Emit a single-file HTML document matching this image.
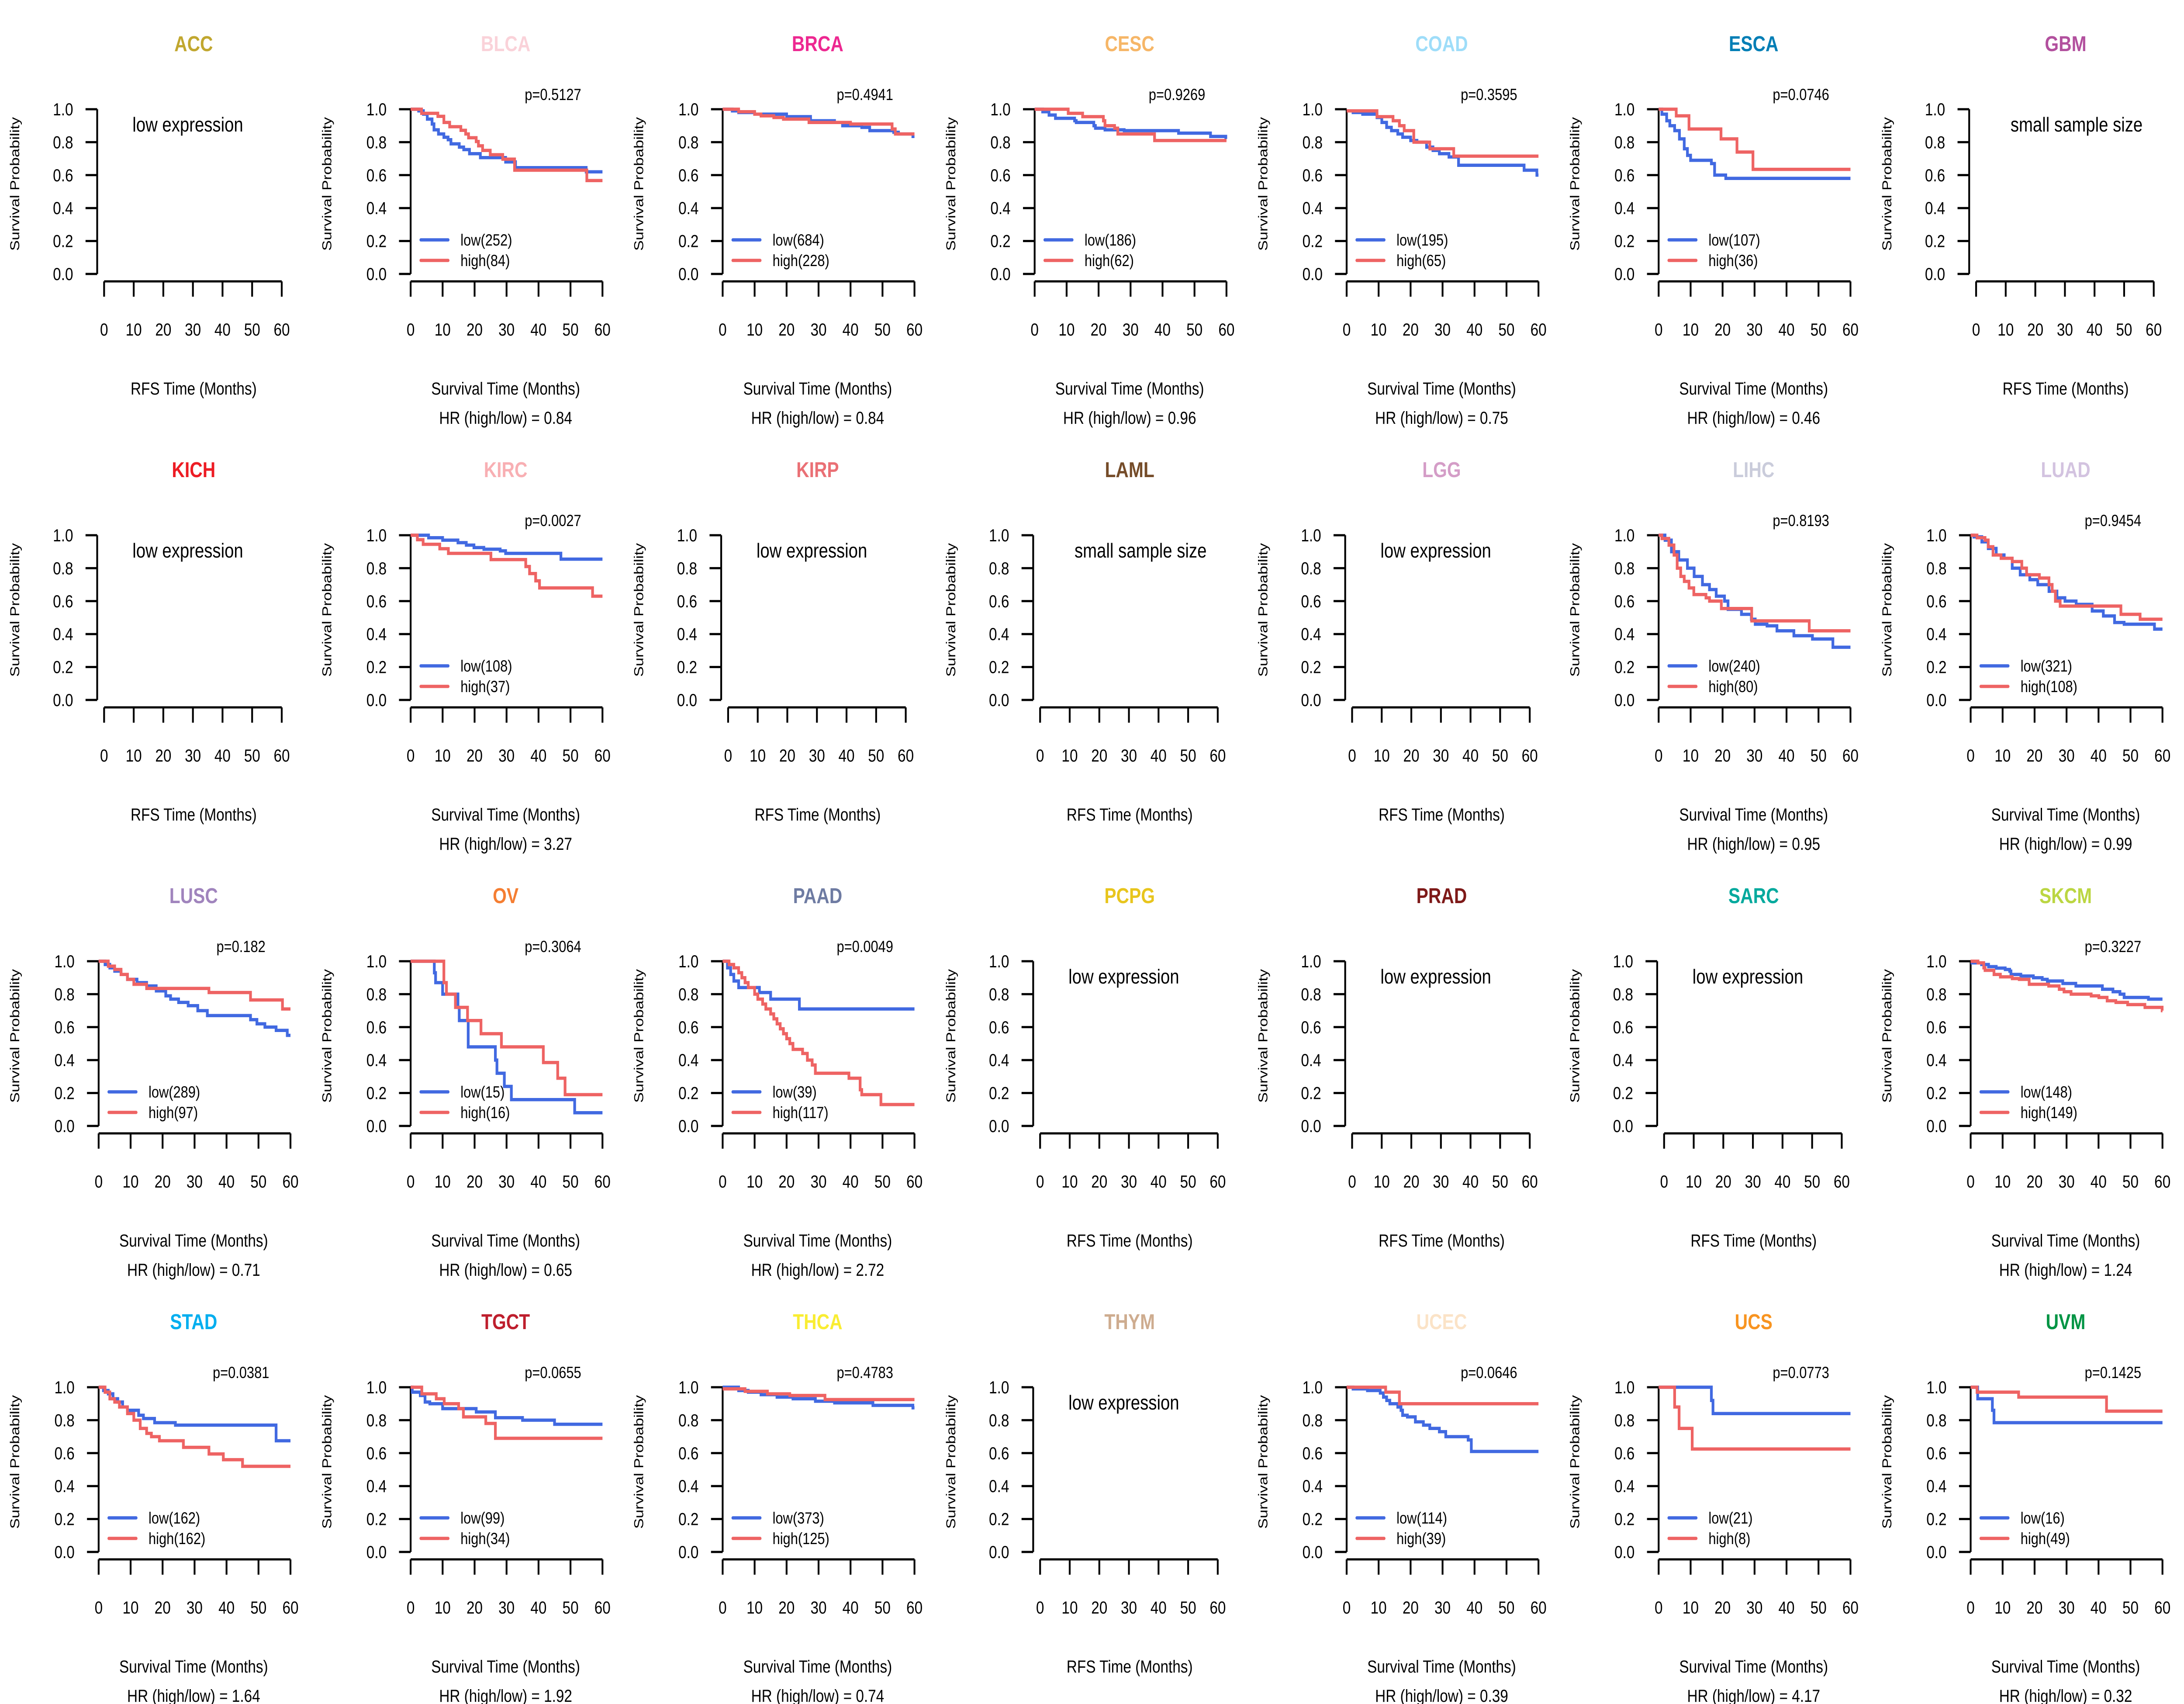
<!DOCTYPE html>
<html><head><meta charset="utf-8">
<style>
html,body{margin:0;padding:0;background:#fff;overflow:hidden;width:100%;height:100%;}
svg{display:block;width:100vw;height:100vh;}
text{font-family:"Liberation Sans",Arial,sans-serif;}
</style></head>
<body>
<svg id="fig" viewBox="0 0 6000 3900" preserveAspectRatio="none" xmlns="http://www.w3.org/2000/svg"></svg>
<script>
// ---- data ----
const cancers = ["ACC","BLCA","BRCA","CESC","COAD","ESCA","GBM",
 "KICH","KIRC","KIRP","LAML","LGG","LIHC","LUAD",
 "LUSC","OV","PAAD","PCPG","PRAD","SARC","SKCM",
 "STAD","TGCT","THCA","THYM","UCEC","UCS","UVM"];
const titleColors = ["#C1A72F","#FAD2D9","#ED2891","#F6B667","#9EDDF9","#007EB5","#B2509E",
 "#ED1C24","#F8AFB3","#EA7075","#754C29","#D49DC7","#CACCDB","#D3C3E0",
 "#A084BD","#F57E32","#6E7BA2","#E8C51D","#7E1918","#00A99D","#BBD642",
 "#00AEEF","#BE1E2D","#F9ED32","#CEAC8F","#FBE3C7","#F89420","#009444"];
const status = ["low","km","km","km","km","km","small",
 "low","km","low","small","low","km","km",
 "km","km","km","low","low","low","km",
 "km","km","km","low","km","km","km"];
const pValues = {BLCA:"0.5127",BRCA:"0.4941",CESC:"0.9269",COAD:"0.3595",ESCA:"0.0746",KIRC:"0.0027",LIHC:"0.8193",LUAD:"0.9454",LUSC:"0.182",OV:"0.3064",PAAD:"0.0049",SKCM:"0.3227",STAD:"0.0381",TGCT:"0.0655",THCA:"0.4783",UCEC:"0.0646",UCS:"0.0773",UVM:"0.1425"};
const hrValues = {BLCA:"0.84",BRCA:"0.84",CESC:"0.96",COAD:"0.75",ESCA:"0.46",KIRC:"3.27",LIHC:"0.95",LUAD:"0.99",LUSC:"0.71",OV:"0.65",PAAD:"2.72",SKCM:"1.24",STAD:"1.64",TGCT:"1.92",THCA:"0.74",UCEC:"0.39",UCS:"4.17",UVM:"0.32"};
const nLow = {BLCA:252,BRCA:684,CESC:186,COAD:195,ESCA:107,KIRC:108,LIHC:240,LUAD:321,LUSC:289,OV:15,PAAD:39,SKCM:148,STAD:162,TGCT:99,THCA:373,UCEC:114,UCS:21,UVM:16};
const nHigh = {BLCA:84,BRCA:228,CESC:62,COAD:65,ESCA:36,KIRC:37,LIHC:80,LUAD:108,LUSC:97,OV:16,PAAD:117,SKCM:149,STAD:162,TGCT:34,THCA:125,UCEC:39,UCS:8,UVM:49};
const xTicks = [0,10,20,30,40,50,60];
const yTicks = ["0.0","0.2","0.4","0.6","0.8","1.0"];

const BLCA_low = [[0,1],[2.5,0.99],[4,0.97],[5.2,0.94],[6.7,0.91],[7.3,0.875],[8.7,0.85],[10.4,0.83],[11.7,0.815],[12.6,0.79],[15.2,0.77],[16.6,0.755],[18.4,0.73],[21.8,0.706],[29.7,0.68],[32.8,0.645],[54.9,0.62]];
const BLCA_high = [[0,1],[3.4,0.975],[8.5,0.957],[10.4,0.92],[12.2,0.894],[15.7,0.872],[17.2,0.85],[18.1,0.827],[20.5,0.804],[21.2,0.778],[22.5,0.75],[24.9,0.724],[28.8,0.697],[32.5,0.63],[55.1,0.567]];
const BRCA_low = [[0,1],[3,0.99],[5,0.98],[10,0.97],[20,0.955],[27.5,0.93],[35,0.92],[37.5,0.9],[43.5,0.89],[46,0.87],[53.5,0.86],[55,0.85],[59.5,0.835]];
const BRCA_high = [[0,1],[5,0.985],[10,0.97],[12,0.96],[16,0.95],[19,0.94],[27,0.92],[40,0.91],[53,0.88],[54,0.85]];
const CESC_low = [[0,1],[2.5,0.985],[4.5,0.965],[6.5,0.945],[12.5,0.93],[13,0.92],[18.5,0.9],[19,0.885],[22,0.875],[28,0.87],[45,0.855],[55,0.835],[59.8,0.82]];
const CESC_high = [[0,1],[10.5,0.975],[15,0.955],[21.5,0.93],[22,0.9],[25,0.885],[26,0.85],[37.5,0.81]];
const COAD_low = [[0,0.99],[2,0.98],[5,0.97],[9.5,0.95],[11,0.92],[12.5,0.89],[14,0.87],[16,0.85],[17.5,0.83],[20,0.81],[22,0.8],[25,0.77],[27,0.75],[29,0.73],[32,0.71],[35,0.66],[55.5,0.63],[59.5,0.6]];
const COAD_high = [[0,0.99],[9.5,0.955],[14.5,0.93],[16.5,0.9],[18,0.87],[21,0.8],[26,0.76],[33.5,0.715]];
const ESCA_low = [[0,1],[1,0.97],[2.5,0.93],[3.5,0.9],[5,0.87],[6.5,0.82],[8,0.76],[9,0.72],[10,0.69],[16.5,0.67],[17.5,0.6],[21,0.58]];
const ESCA_high = [[0,1],[5.5,0.96],[9.5,0.88],[19.5,0.82],[24.5,0.74],[29.5,0.635]];
const KIRC_low = [[0,1],[5.6,0.985],[10,0.97],[14.8,0.955],[17.4,0.94],[19.8,0.925],[22.9,0.915],[28,0.905],[29.7,0.89],[47,0.855]];
const KIRC_high = [[0,1],[2.1,0.973],[3.9,0.945],[9.1,0.918],[11.8,0.89],[25.1,0.852],[36,0.81],[37.2,0.767],[39.1,0.723],[40.3,0.68],[56.9,0.63]];
const LIHC_low = [[0,1],[2,0.97],[4,0.9],[6.3,0.85],[9,0.8],[11.1,0.75],[13.7,0.7],[15.9,0.67],[18,0.63],[20.6,0.6],[21.7,0.55],[25.9,0.52],[29,0.49],[30.2,0.46],[33.9,0.45],[37,0.42],[42.3,0.39],[48.1,0.37],[54.5,0.32]];
const LIHC_high = [[0,1],[1,0.98],[3.2,0.94],[4.8,0.88],[5.8,0.8],[6.9,0.75],[8,0.72],[9.5,0.68],[11,0.64],[14.8,0.62],[15.9,0.6],[19.6,0.555],[29.1,0.48],[47.1,0.42]];
const LUAD_low = [[0,1],[1,0.99],[3.5,0.96],[5.5,0.92],[8,0.88],[10.5,0.86],[13,0.8],[15.5,0.76],[18.5,0.73],[21,0.7],[24.5,0.66],[27,0.62],[29.5,0.6],[33,0.58],[38,0.54],[41.5,0.51],[45,0.47],[48,0.46],[57.5,0.43]];
const LUAD_high = [[0,1],[2,0.985],[4.5,0.97],[5.5,0.93],[7,0.88],[9.5,0.86],[13,0.84],[16,0.8],[17.5,0.76],[21.5,0.74],[24.5,0.7],[25.5,0.66],[26.5,0.6],[28,0.57],[47,0.52],[53,0.49]];
const LUSC_low = [[0,1],[2,0.98],[3.5,0.96],[5,0.94],[7,0.92],[9,0.89],[12,0.87],[15,0.85],[18,0.82],[21,0.79],[22.5,0.77],[25,0.75],[28,0.73],[31,0.7],[34,0.67],[47.5,0.645],[49.5,0.62],[52,0.6],[55.5,0.58],[59,0.55]];
const LUSC_high = [[0,1],[3,0.97],[5,0.95],[7,0.92],[9,0.89],[11,0.86],[15,0.835],[34.5,0.81],[47.5,0.765],[57.5,0.71]];
const OV_low = [[0,1],[7.4,0.93],[7.8,0.87],[10,0.8],[14.8,0.72],[15.2,0.64],[18,0.48],[26.5,0.4],[27,0.32],[29.3,0.24],[31.5,0.16],[51.3,0.08]];
const OV_high = [[0,1],[10.4,0.87],[11.2,0.8],[14,0.72],[17.8,0.64],[22,0.56],[28.4,0.48],[41.5,0.385],[46,0.29],[48.3,0.19]];
const PAAD_low = [[0,1],[1.5,0.96],[2.5,0.92],[3.5,0.88],[5,0.84],[11.5,0.81],[15,0.77],[24,0.71]];
const PAAD_high = [[0,1],[2,0.98],[3.5,0.96],[5,0.93],[6,0.9],[7,0.87],[8,0.84],[10,0.8],[11,0.77],[12.5,0.74],[13.5,0.71],[15,0.68],[16,0.65],[17,0.62],[18,0.59],[19,0.56],[20,0.53],[21,0.5],[22,0.465],[25,0.44],[26.5,0.4],[28,0.37],[29,0.32],[39.5,0.29],[43,0.22],[43.5,0.19],[49.5,0.13]];
const SKCM_low = [[0,0.99],[3.4,0.98],[5.6,0.967],[8,0.958],[10.8,0.95],[12.2,0.94],[12.6,0.92],[15.7,0.91],[19.6,0.9],[22.4,0.89],[24,0.88],[28.8,0.865],[32.9,0.85],[41.2,0.83],[44.5,0.815],[46.7,0.8],[48,0.78],[55.6,0.77]];
const SKCM_high = [[0,1],[2.3,0.99],[4.1,0.96],[4.5,0.945],[7.3,0.92],[9.3,0.905],[13,0.895],[15.2,0.89],[18.3,0.86],[24.4,0.85],[27.7,0.83],[29.2,0.815],[31.4,0.8],[37.7,0.79],[40.1,0.78],[42.7,0.76],[45.4,0.75],[49.1,0.737],[54.5,0.72],[59.9,0.7]];
const STAD_low = [[0,1],[1.5,0.98],[3,0.96],[4.5,0.93],[6,0.91],[7.5,0.88],[9,0.86],[12.5,0.83],[14,0.81],[17.5,0.785],[24,0.77],[55.5,0.675]];
const STAD_high = [[0,1],[2,0.97],[3.5,0.93],[5,0.91],[6.5,0.88],[9,0.84],[11,0.8],[13,0.75],[15,0.72],[16.5,0.7],[19,0.675],[26.5,0.635],[34.5,0.595],[39,0.56],[45,0.52]];
const TGCT_low = [[0,1],[0.5,0.97],[3,0.95],[4.5,0.91],[6,0.9],[10,0.87],[20.5,0.85],[26.5,0.815],[35,0.8],[45,0.775]];
const TGCT_high = [[0,1],[3.5,0.96],[8,0.93],[10.5,0.9],[15,0.87],[16.5,0.82],[23.5,0.78],[26.5,0.69]];
const THCA_low = [[0,1],[5,0.98],[8,0.97],[12,0.955],[17,0.94],[22,0.93],[29,0.915],[35,0.905],[47,0.89],[59.5,0.875]];
const THCA_high = [[0,0.99],[7,0.975],[14,0.96],[21,0.95],[32,0.925]];
const UCEC_low = [[0,1],[2,0.99],[6.5,0.98],[10.5,0.965],[11.5,0.94],[12.5,0.92],[13.5,0.9],[16,0.88],[17,0.86],[17.5,0.83],[19,0.82],[21.5,0.79],[24,0.77],[26,0.75],[29,0.73],[31,0.7],[38,0.68],[39,0.61]];
const UCEC_high = [[0,1],[12.2,0.97],[16.5,0.9]];
const UCS_low = [[0,1],[16.5,0.92],[17,0.84]];
const UCS_high = [[0,1],[5,0.88],[6.4,0.75],[10.5,0.625]];
const UVM_low = [[0,1],[2.2,0.93],[6.8,0.86],[7.3,0.785]];
const UVM_high = [[0,1],[2,0.97],[15,0.94],[42.5,0.855]];

const curves = {BLCA:[BLCA_low,BLCA_high],BRCA:[BRCA_low,BRCA_high],CESC:[CESC_low,CESC_high],COAD:[COAD_low,COAD_high],ESCA:[ESCA_low,ESCA_high],KIRC:[KIRC_low,KIRC_high],LIHC:[LIHC_low,LIHC_high],LUAD:[LUAD_low,LUAD_high],LUSC:[LUSC_low,LUSC_high],OV:[OV_low,OV_high],PAAD:[PAAD_low,PAAD_high],SKCM:[SKCM_low,SKCM_high],STAD:[STAD_low,STAD_high],TGCT:[TGCT_low,TGCT_high],THCA:[THCA_low,THCA_high],UCEC:[UCEC_low,UCEC_high],UCS:[UCS_low,UCS_high],UVM:[UVM_low,UVM_high]};

// ---- drawing ----
const NS = "http://www.w3.org/2000/svg";
const svg = document.getElementById("fig");
function mk(tag, attrs, parent, txt){
  const e = document.createElementNS(NS, tag);
  for (const k in attrs) e.setAttribute(k, attrs[k]);
  if (txt !== undefined) e.textContent = txt;
  parent.appendChild(e);
  return e;
}
const PW = 6000/7, PH = 975;
const BLUE = "#4169E1", RED = "#EE6363";

cancers.forEach((name, i) => {
  const col = i % 7, row = Math.floor(i / 7);
  const g = mk("g", {transform: `translate(${(col*PW).toFixed(2)},${row*PH})`}, svg);
  
  
  const km = status[i] === "km";
  const yTop = 250, yBot = 627;
  const xA = km ? 271 : 286, xB = km ? 798 : 774, yAxisX = km ? 271 : 267;
  const xs = t => xA + (xB - xA) * t / 60;
  const ys = s => yBot - (yBot - yTop) * s;

  const title = mk("text", {x: 532, y: 117, "text-anchor": "middle", "font-size": 49, "font-weight": "bold", fill: titleColors[i]}, g, name);
  
  

  const yl = mk("text", {transform: "translate(53,421) rotate(-90)", "text-anchor": "middle", "font-size": 36, fill: "#000"}, g, "Survival Probability");
  
  

  const ya = mk("g", {}, g);
  
  
  mk("line", {x1: yAxisX, y1: yTop, x2: yAxisX, y2: yBot, stroke: "#000", "stroke-width": 5}, ya);
  yTicks.forEach(lab => {
    const yy = ys(parseFloat(lab));
    mk("line", {x1: yAxisX - 32, y1: yy, x2: yAxisX, y2: yy, stroke: "#000", "stroke-width": 5}, ya);
    const t = mk("text", {x: yAxisX - 66, y: yy + 14, "text-anchor": "end", "font-size": 40, fill: "#000"}, ya, lab);
    
    
  });

  const xa = mk("g", {}, g);
  
  
  mk("line", {x1: xs(0), y1: 644, x2: xs(60), y2: 644, stroke: "#000", "stroke-width": 5}, xa);
  xTicks.forEach(v => {
    mk("line", {x1: xs(v), y1: 644, x2: xs(v), y2: 679, stroke: "#000", "stroke-width": 5}, xa);
    const t = mk("text", {x: xs(v), y: 768, "text-anchor": "middle", "font-size": 40, fill: "#000"}, xa, String(v));
    
    
  });

  const xl = mk("text", {x: 532, y: 903, "text-anchor": "middle", "font-size": 40, fill: "#000"}, g, km ? "Survival Time (Months)" : "RFS Time (Months)");
  
  

  if (!km) {
    const msg = status[i] === "low" ? "low expression" : "small sample size";
    const cx = status[i] === "low" ? 516 : 562;
    const m = mk("text", {x: cx, y: 301, "text-anchor": "middle", "font-size": 46, fill: "#000"}, g, msg);
    
    
    return;
  }

  const [lowC, highC] = curves[name];
  [[lowC, BLUE, "low"], [highC, RED, "high"]].forEach(([pts, color, lab]) => {
    let d = `M${xs(0)},${ys(pts[0][1])}`;
    for (let k = 1; k < pts.length; k++) {
      d += `H${xs(pts[k][0]).toFixed(1)}V${ys(pts[k][1]).toFixed(1)}`;
    }
    d += `H${xs(60)}`;
    const p = mk("path", {d: d, fill: "none", stroke: color, "stroke-width": 7.5}, g);
    
    
  });

  const pt = mk("text", {x: 662, y: 229, "text-anchor": "middle", "font-size": 37, fill: "#000"}, g, "p=" + pValues[name]);
  
  

  const lg = mk("g", {}, g);
  
  
  mk("line", {x1: 299, y1: 549, x2: 374, y2: 549, stroke: BLUE, "stroke-width": 7.5, "stroke-linecap": "round"}, lg);
  const l1 = mk("text", {x: 408, y: 562, "font-size": 37, fill: "#000"}, lg, `low(${nLow[name]})`);
  
  
  mk("line", {x1: 299, y1: 596, x2: 374, y2: 596, stroke: RED, "stroke-width": 7.5, "stroke-linecap": "round"}, lg);
  const l2 = mk("text", {x: 408, y: 609, "font-size": 37, fill: "#000"}, lg, `high(${nHigh[name]})`);
  
  

  const hr = mk("text", {x: 532, y: 970, "text-anchor": "middle", "font-size": 40, fill: "#000", "xml:space": "preserve"}, g, "HR (high/low) =  " + hrValues[name]);
  
  
});
</script>
</body></html>
